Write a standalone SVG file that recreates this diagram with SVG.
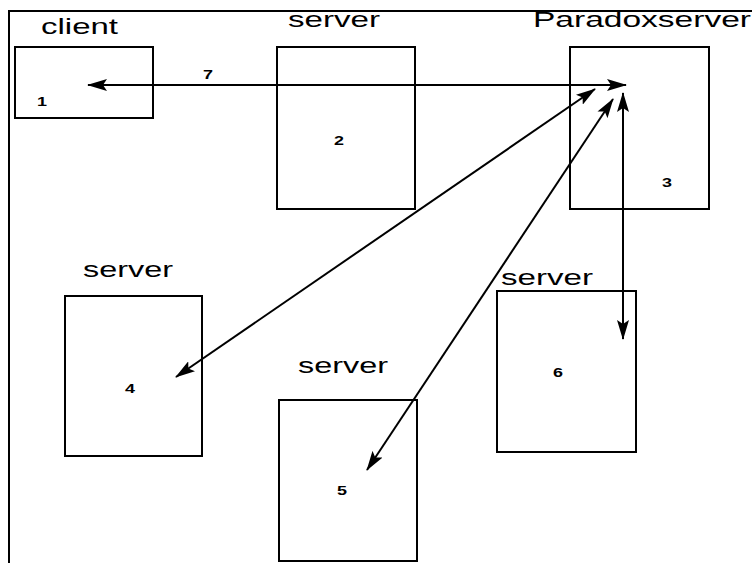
<svg xmlns="http://www.w3.org/2000/svg" width="752" height="563" viewBox="0 0 752 563">
  <style>
    .box { fill: #fff; stroke: #000; stroke-width: 2; }
    .lbl { font-family: "Liberation Sans", Arial, sans-serif; font-size: 22px; fill: #000; }
    .num { font-family: "Liberation Sans", Arial, sans-serif; font-size: 13px; font-weight: bold; fill: #000; }
    .conn { stroke: #000; stroke-width: 2; fill: none; marker-start: url(#ah); marker-end: url(#ah); }
    .frame { stroke: #000; stroke-width: 2; fill: none; }
  </style>
  <defs>
    <marker id="ah" markerUnits="userSpaceOnUse" markerWidth="20" markerHeight="12" refX="19" refY="6" orient="auto-start-reverse" viewBox="0 0 20 12">
      <path d="M0,0 L20,6 L0,12 L4,6 z" fill="#000"/>
    </marker>
  </defs>
  <rect width="752" height="563" fill="#fff"/>
  <path class="frame" d="M9,563 L9,11 L752,11"/>

  <g id="node1">
    <rect class="box" x="15" y="47" width="138" height="71"/>
    <text class="lbl" x="41" y="34" textLength="77" lengthAdjust="spacingAndGlyphs">client</text>
    <text class="num" x="37" y="106" textLength="10" lengthAdjust="spacingAndGlyphs">1</text>
  </g>
  <g id="node2">
    <rect class="box" x="277" y="47" width="138" height="162"/>
    <text class="lbl" x="288" y="27" textLength="92" lengthAdjust="spacingAndGlyphs">server</text>
    <text class="num" x="334" y="145" textLength="10" lengthAdjust="spacingAndGlyphs">2</text>
  </g>
  <g id="node3">
    <rect class="box" x="570" y="47" width="139" height="162"/>
    <text class="lbl" x="533" y="27" textLength="218" lengthAdjust="spacingAndGlyphs">Paradoxserver</text>
    <text class="num" x="662" y="187" textLength="10" lengthAdjust="spacingAndGlyphs">3</text>
  </g>
  <g id="node4">
    <rect class="box" x="65" y="296" width="137" height="160"/>
    <text class="lbl" x="83" y="277" textLength="90" lengthAdjust="spacingAndGlyphs">server</text>
    <text class="num" x="125" y="393" textLength="10" lengthAdjust="spacingAndGlyphs">4</text>
  </g>
  <g id="node5">
    <rect class="box" x="279" y="400" width="138" height="161"/>
    <text class="lbl" x="298" y="373" textLength="90" lengthAdjust="spacingAndGlyphs">server</text>
    <text class="num" x="337" y="495" textLength="10" lengthAdjust="spacingAndGlyphs">5</text>
  </g>
  <g id="node6">
    <rect class="box" x="497" y="291" width="139" height="161"/>
    <text class="lbl" x="501" y="285" textLength="92" lengthAdjust="spacingAndGlyphs">server</text>
    <text class="num" x="553" y="377" textLength="10" lengthAdjust="spacingAndGlyphs">6</text>
  </g>

  <g id="connectors">
    <line class="conn" x1="88" y1="85" x2="626" y2="85"/>
    <text class="num" x="203" y="79" textLength="10" lengthAdjust="spacingAndGlyphs">7</text>
    <line class="conn" x1="176" y1="377" x2="595" y2="89"/>
    <line class="conn" x1="367" y1="470" x2="613" y2="99"/>
    <line class="conn" x1="623" y1="93" x2="623" y2="339"/>
  </g>
</svg>
